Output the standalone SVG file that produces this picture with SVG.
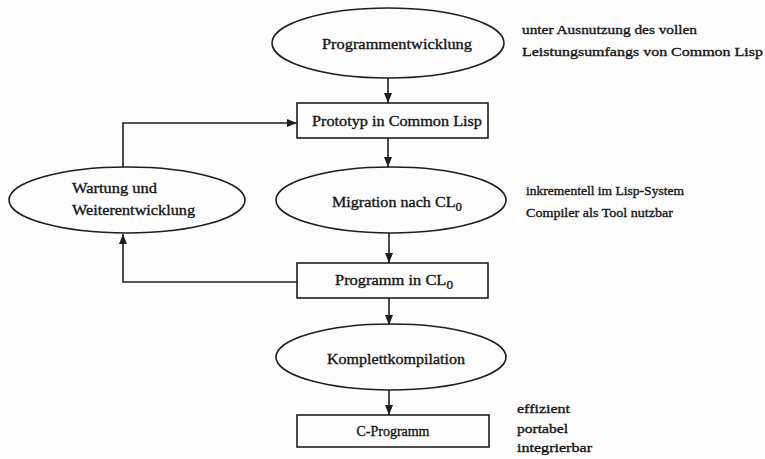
<svg xmlns="http://www.w3.org/2000/svg" width="765" height="459" viewBox="0 0 765 459">
<defs>
<marker id="ah" markerWidth="10" markerHeight="10" viewBox="0 0 10 10" refX="10" refY="5" orient="auto" markerUnits="userSpaceOnUse">
<path d="M0,1 L10,5 L0,9 Z" fill="#1e1e1e"/>
</marker>
</defs>
<style>
.shape{fill:none;stroke:#1e1e1e;stroke-width:1.6}
.conn{fill:none;stroke:#1e1e1e;stroke-width:1.6}
.lbl{font-family:"Liberation Serif","Times New Roman",serif;font-size:15px;fill:#151515;stroke:#151515;stroke-width:0.35;text-anchor:middle}
.note{font-family:"Liberation Serif","Times New Roman",serif;font-size:13.5px;fill:#151515;stroke:#151515;stroke-width:0.35}
.sub{font-size:12px}
</style>
<rect width="765" height="459" fill="#fdfdfd"/>
<g id="connectors">
<line class="conn" x1="388" y1="78" x2="388" y2="103" marker-end="url(#ah)"/>
<line class="conn" x1="388" y1="138" x2="388" y2="167" marker-end="url(#ah)"/>
<line class="conn" x1="389" y1="233" x2="389" y2="263" marker-end="url(#ah)"/>
<line class="conn" x1="389" y1="298" x2="389" y2="325" marker-end="url(#ah)"/>
<line class="conn" x1="389" y1="390" x2="389" y2="415" marker-end="url(#ah)"/>
<polyline class="conn" points="297,282 123,282 123,234" marker-end="url(#ah)"/>
<polyline class="conn" points="123,167 123,123 297,123" marker-end="url(#ah)"/>
</g>
<g id="n-programmentwicklung">
<ellipse class="shape" cx="388" cy="43" rx="116" ry="35"/>
<text class="lbl" x="397" y="49" textLength="150" lengthAdjust="spacingAndGlyphs">Programmentwicklung</text>
</g>
<g id="n-prototyp">
<rect class="shape" x="297" y="103" width="191" height="35"/>
<text class="lbl" x="397" y="126" textLength="170" lengthAdjust="spacingAndGlyphs">Prototyp in Common Lisp</text>
</g>
<g id="n-migration">
<ellipse class="shape" cx="391" cy="200" rx="115" ry="33"/>
<text class="lbl" x="332" y="207" style="text-anchor:start" textLength="130" lengthAdjust="spacingAndGlyphs">Migration nach CL<tspan class="sub" dy="4">0</tspan></text>
</g>
<g id="n-programm-cl0">
<rect class="shape" x="297" y="263" width="191" height="35"/>
<text class="lbl" x="335" y="285" style="text-anchor:start" textLength="118" lengthAdjust="spacingAndGlyphs">Programm in CL<tspan class="sub" dy="4">0</tspan></text>
</g>
<g id="n-komplett">
<ellipse class="shape" cx="391" cy="357" rx="115" ry="33"/>
<text class="lbl" x="396" y="364" textLength="138" lengthAdjust="spacingAndGlyphs">Komplettkompilation</text>
</g>
<g id="n-cprogramm">
<rect class="shape" x="297" y="415" width="192" height="32"/>
<text class="lbl" x="393" y="436" textLength="73" lengthAdjust="spacingAndGlyphs">C-Programm</text>
</g>
<g id="n-wartung">
<ellipse class="shape" cx="127" cy="200" rx="118" ry="33"/>
<text class="note" x="72" y="193" style="font-size:15px" textLength="85" lengthAdjust="spacingAndGlyphs">Wartung und</text>
<text class="note" x="72" y="215" style="font-size:15px" textLength="123" lengthAdjust="spacingAndGlyphs">Weiterentwicklung</text>
</g>
<g id="notes">
<text class="note" x="522" y="34" textLength="175" lengthAdjust="spacingAndGlyphs">unter Ausnutzung des vollen</text>
<text class="note" x="522" y="56" textLength="241" lengthAdjust="spacingAndGlyphs">Leistungsumfangs von Common Lisp</text>
<text class="note" x="526" y="195" textLength="158" lengthAdjust="spacingAndGlyphs">inkrementell im Lisp-System</text>
<text class="note" x="526" y="217" textLength="147" lengthAdjust="spacingAndGlyphs">Compiler als Tool nutzbar</text>
<text class="note" x="517" y="413" textLength="53" lengthAdjust="spacingAndGlyphs">effizient</text>
<text class="note" x="517" y="433" textLength="51" lengthAdjust="spacingAndGlyphs">portabel</text>
<text class="note" x="517" y="452" textLength="75" lengthAdjust="spacingAndGlyphs">integrierbar</text>
</g>
</svg>
